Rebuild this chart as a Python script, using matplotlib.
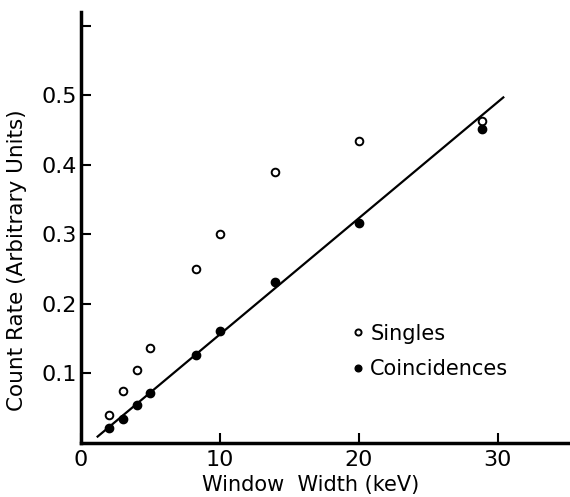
import matplotlib
matplotlib.use('Agg')
import matplotlib.pyplot as plt

# Дані
singles_x = [2.0, 3.0, 4.0, 5.0, 8.3, 10.0, 14.0, 20.0, 28.9]
singles_y = [0.040, 0.075, 0.105, 0.137, 0.250, 0.300, 0.390, 0.435, 0.463]

coinc_x = [2.0, 3.0, 4.0, 5.0, 8.3, 10.0, 14.0, 20.0, 28.9]
coinc_y = [0.022, 0.035, 0.055, 0.072, 0.127, 0.161, 0.232, 0.317, 0.452]

# Пряма, проведена через збіги
fit_x = [1.2, 30.4]
fit_y = [0.009, 0.497]

x_ticks = [0, 10, 20, 30]
y_ticks = [0.1, 0.2, 0.3, 0.4, 0.5, 0.6]
y_tick_labels = ['0.1', '0.2', '0.3', '0.4', '0.5', '']

plt.rcParams['font.family'] = ['DejaVu Sans']

fig = plt.figure(figsize=(5.7, 4.97), dpi=100)
ax = fig.add_axes([0.142, 0.109, 0.858, 0.867])

ax.plot(fit_x, fit_y, color='black', linewidth=1.6, zorder=2)
ax.plot(singles_x, singles_y, linestyle='none', marker='o', markersize=5.5,
        markerfacecolor='white', markeredgecolor='black', markeredgewidth=1.4,
        label='Singles', zorder=3)
ax.plot(coinc_x, coinc_y, linestyle='none', marker='o', markersize=6,
        color='black', label='Coincidences', zorder=3)

ax.set_xlim(0, 35.2)
ax.set_ylim(0, 0.62)

ax.spines['top'].set_visible(False)
ax.spines['right'].set_visible(False)
ax.spines['left'].set_linewidth(2.5)
ax.spines['bottom'].set_linewidth(2.5)

ax.set_xticks(x_ticks)
ax.set_yticks(y_ticks)
ax.set_yticklabels(y_tick_labels)
ax.tick_params(direction='in', length=7, width=1.5, labelsize=16)
ax.tick_params(axis='y', pad=3)
ax.tick_params(axis='x', pad=5)

ax.set_xlabel('Window  Width (keV)', fontsize=15)
ax.set_ylabel('Count Rate (Arbitrary Units)', fontsize=15.5)
ax.xaxis.set_label_coords(0.47, -0.075)
ax.yaxis.set_label_coords(-0.11, 0.425)

ax.legend(loc='upper left', bbox_to_anchor=(0.515, 0.32), frameon=False,
          fontsize=15, handlelength=0.6, handletextpad=0.3, labelspacing=0.75,
          markerscale=0.8)

fig.savefig('out.png', dpi=100)
